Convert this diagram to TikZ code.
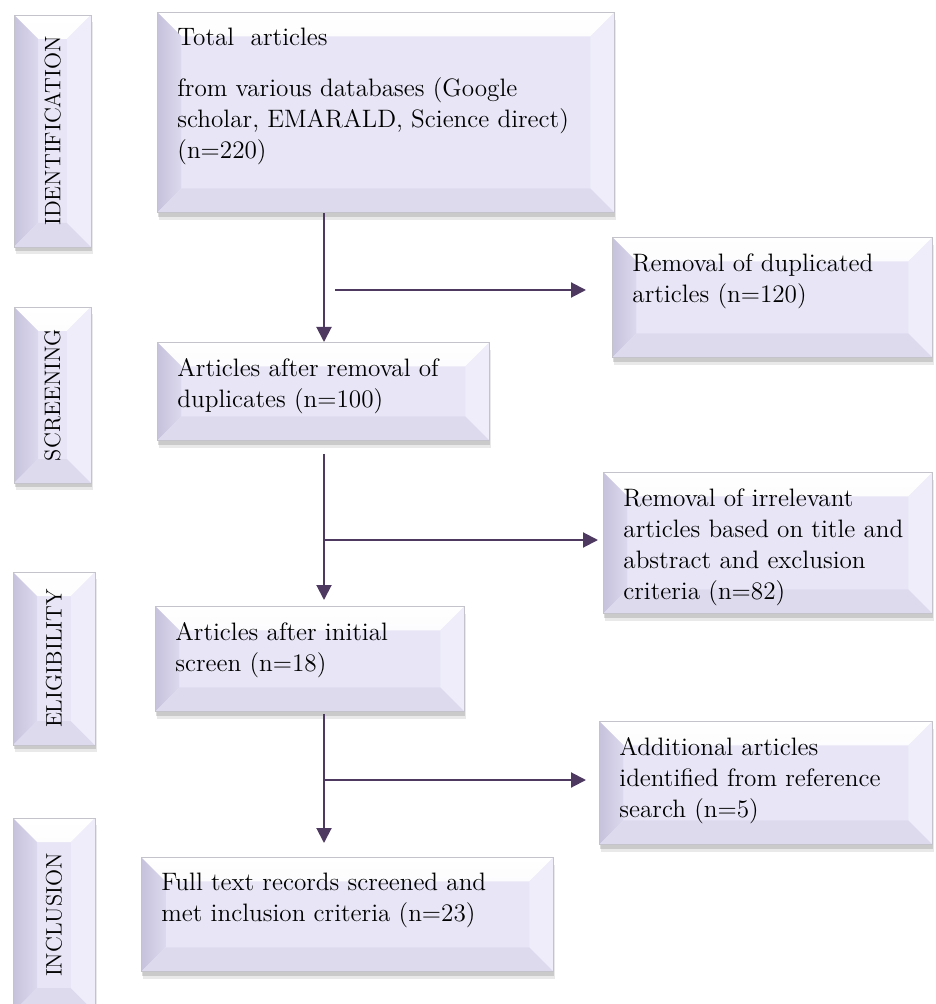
\documentclass[tikz,border=0pt]{standalone}
\usepackage{tikz}
\usetikzlibrary{arrows.meta, shadows}
\definecolor{lavface}{HTML}{E8E6F6}
\definecolor{lavtop}{HTML}{F1F0FA}
\definecolor{lavleft}{HTML}{C6C2DC}
\definecolor{lavleftin}{HTML}{DCD9EE}
\definecolor{lavbot}{HTML}{DDDAEE}
\definecolor{lavright}{HTML}{EEEDF9}
\definecolor{rimgray}{HTML}{C4C3CC}
\definecolor{plum}{HTML}{4E3A60}

\begin{document}
\begin{tikzpicture}[x=0.5pt, y=-0.5pt,
  flow/.style={draw=plum, line width=1pt, -{Triangle[length=7.5pt, width=7.5pt]}}]

\useasboundingbox (0,0) rectangle (935,1004);

\tikzstyle{bevel}=[rectangle, draw=rimgray, line width=0.4pt, fill=lavface, inner sep=0pt,
  drop shadow={shadow xshift=0.8pt, shadow yshift=-3.6pt, opacity=0.12, fill=black!70},
  drop shadow={shadow xshift=0.5pt, shadow yshift=-2.2pt, opacity=0.2, fill=black!70},
  path picture={
    \shade[top color=white, bottom color=lavtop]
      (path picture bounding box.north west) -- (path picture bounding box.north east)
      -- ([shift={(-12pt,-12pt)}]path picture bounding box.north east)
      -- ([shift={(12pt,-12pt)}]path picture bounding box.north west) -- cycle;
    \shade[left color=lavleft, right color=lavleftin]
      (path picture bounding box.north west) -- ([shift={(12pt,-12pt)}]path picture bounding box.north west)
      -- ([shift={(12pt,12pt)}]path picture bounding box.south west)
      -- (path picture bounding box.south west) -- cycle;
    \fill[lavbot]
      (path picture bounding box.south west) -- (path picture bounding box.south east)
      -- ([shift={(-12pt,12pt)}]path picture bounding box.south east)
      -- ([shift={(12pt,12pt)}]path picture bounding box.south west) -- cycle;
    \fill[lavright]
      (path picture bounding box.north east) -- (path picture bounding box.south east)
      -- ([shift={(-12pt,12pt)}]path picture bounding box.south east)
      -- ([shift={(-12pt,-12pt)}]path picture bounding box.north east) -- cycle;
  }]
\tikzstyle{mainbox}=[bevel, anchor=north west, inner xsep=10pt, inner ysep=8pt,
  font=\fontsize{12.6}{15.5}\selectfont]
\tikzstyle{sidebox}=[bevel, font=\fontsize{11.2}{13}\selectfont]

% stage labels
\node (ident) [sidebox, minimum width=38.5pt, minimum height=116pt] at (52.5,131) {\rotatebox{90}{IDENTIFICATION}};
\node (scrn)  [sidebox, minimum width=38.5pt, minimum height=88pt]  at (52.5,395) {\rotatebox{90}{SCREENING}};
\node (elig)  [sidebox, minimum width=41pt, minimum height=86.5pt]  at (54,658.5) {\rotatebox{90}{ELIGIBILITY}};
\node (incl)  [sidebox, minimum width=41pt, minimum height=97pt]    at (54,915) {\rotatebox{90}{INCLUSION}};

% flow boxes
\node (tot) [mainbox] at (157,12) {\parbox[t][84pt][t]{208.5pt}{\raggedright
  Total\ \ articles\\[10pt]
  from various databases (Google\\ scholar, EMARALD, Science direct)\\ (n=220)}};
\node (dup) [mainbox] at (612,237) {\parbox[t][44pt][t]{140pt}{\raggedright
  Removal of duplicated\\ articles (n=120)}};
\node (arm) [mainbox] at (157,342) {\parbox[t][33pt][t]{146pt}{\raggedright
  Articles after removal of\\ duplicates (n=100)}};
\node (irr) [mainbox] at (603,472) {\parbox[t][54.5pt][t]{144.5pt}{\raggedright
  Removal of irrelevant\\ articles based on title and\\ abstract and exclusion\\ criteria (n=82)}};
\node (ai) [mainbox] at (155,606) {\parbox[t][36.5pt][t]{134.5pt}{\raggedright
  Articles after initial\\ screen (n=18)}};
\node (add) [mainbox] at (599,721) {\parbox[t][45.5pt][t]{146.5pt}{\raggedright
  Additional articles\\ identified from reference\\ search (n=5)}};
\node (full) [mainbox] at (141,857) {\parbox[t][41pt][t]{186pt}{\raggedright
  Full text records screened and\\ met inclusion criteria (n=23)}};

\coordinate (spine) at (324,0);
\coordinate (br1) at (335,290);
\coordinate (br2) at (324,540);
\coordinate (br3) at (324,780);

\draw[flow] (tot.south -| spine) -- (arm.north -| spine);
\draw[flow, shorten >=13pt] (br1) -- (br1 -| dup.west);
\draw[flow, shorten <=6.5pt, shorten >=3pt] (arm.south -| spine) -- (ai.north -| spine);
\draw[flow, shorten >=2.5pt] (br2) -- (br2 -| irr.west);
\draw[flow, shorten <=1pt, shorten >=7pt] (ai.south -| spine) -- (full.north -| spine);
\draw[flow, shorten >=6.5pt] (br3) -- (br3 -| add.west);

\end{tikzpicture}
\end{document}
